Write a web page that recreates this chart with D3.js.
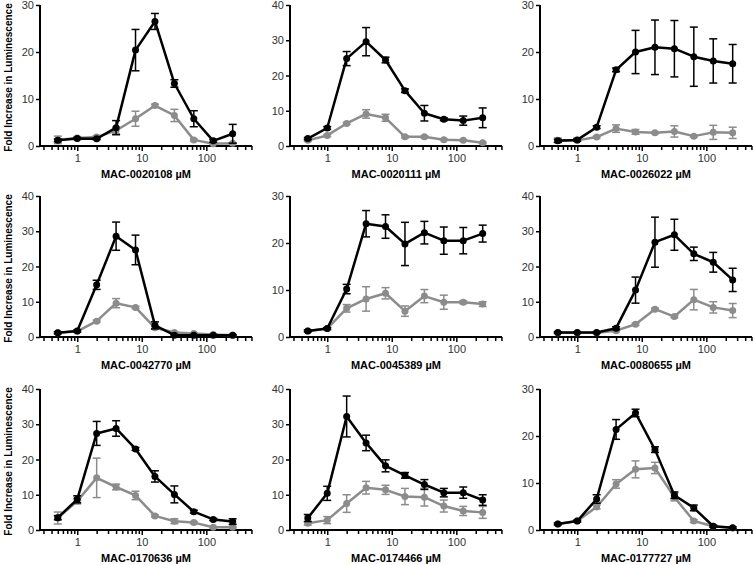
<!DOCTYPE html>
<html>
<head>
<meta charset="utf-8">
<script src="https://cdn.jsdelivr.net/npm/d3@7"></script>
<style>
  body { margin: 0; background: #fff; }
  text { font-family: "Liberation Sans", Arial, sans-serif; }
</style>
</head>
<body>
<svg id="chart" width="754" height="565"></svg>
<script>
// concentrations (µM), 2-fold dilutions
const conc = [0.5, 1, 2, 4, 8, 16, 32, 64, 128, 256];

const compounds = [
  "MAC-0020108", "MAC-0020111", "MAC-0026022",
  "MAC-0042770", "MAC-0045389", "MAC-0080655",
  "MAC-0170636", "MAC-0174466", "MAC-0177727"
];

const yMax = [30, 40, 30, 40, 30, 40, 40, 40, 30];
const yTicks = [[0, 10, 20, 30], [0, 10, 20, 30, 40], [0, 10, 20, 30],
                [0, 10, 20, 30, 40], [0, 10, 20, 30], [0, 10, 20, 30, 40],
                [0, 10, 20, 30, 40], [0, 10, 20, 30, 40], [0, 10, 20, 30]];

const blackMean = [
  [1.2, 1.6, 1.55, 3.9, 20.4, 26.5, 13.3, 5.8, 1.1, 2.6],
  [2.1, 5.1, 24.8, 29.6, 24.4, 15.7, 9.3, 7.6, 7.2, 8.0],
  [1.1, 1.3, 4.0, 16.2, 20.0, 21.0, 20.7, 19.0, 18.1, 17.5],
  [1.2, 1.7, 14.8, 28.6, 24.7, 3.3, 0.5, 0.5, 0.5, 0.5],
  [1.3, 1.8, 10.2, 24.1, 23.5, 19.8, 22.2, 20.5, 20.5, 22.0],
  [1.3, 1.3, 1.3, 2.5, 13.3, 26.9, 29.0, 23.6, 21.2, 16.2],
  [3.5, 8.7, 27.4, 28.8, 23.0, 15.2, 10.1, 5.2, 3.0, 2.4],
  [3.4, 10.4, 32.2, 24.7, 18.2, 15.5, 12.9, 10.6, 10.6, 8.5],
  [1.3, 1.9, 6.6, 21.4, 24.9, 17.1, 7.4, 4.7, 0.8, 0.5]
];
const blackErr = [
  [0.3, 0.2, 0.2, 1.5, 4.4, 1.7, 0.8, 1.7, 0.3, 2.0],
  [0.3, 0.4, 2.0, 4.0, 0.8, 0.5, 2.2, 0.4, 1.3, 2.8],
  [0.3, 0.3, 0.3, 0.4, 4.6, 5.8, 6.0, 6.3, 4.7, 4.1],
  [0.3, 0.3, 1.3, 4.0, 4.2, 1.0, 0.2, 0.2, 0.2, 0.2],
  [0.2, 0.2, 1.0, 2.8, 2.5, 4.6, 2.4, 2.9, 2.8, 1.8],
  [0.2, 0.2, 0.2, 0.4, 3.7, 7.1, 4.4, 1.9, 2.8, 3.3],
  [0.6, 1.0, 3.4, 2.2, 0.4, 1.6, 2.4, 0.4, 0.3, 0.8],
  [1.0, 2.0, 5.8, 2.2, 1.7, 0.8, 1.4, 1.2, 1.6, 1.5],
  [0.2, 0.2, 0.9, 2.1, 0.8, 0.6, 0.7, 0.6, 0.2, 0.2]
];

const greyMean = [
  [1.3, 1.7, 1.9, 3.3, 5.8, 8.6, 6.5, 1.3, 0.5, 0.6],
  [1.6, 3.0, 6.4, 9.1, 8.0, 2.6, 2.6, 1.8, 1.6, 0.9],
  [1.2, 1.2, 1.9, 3.7, 3.0, 2.8, 3.1, 2.1, 2.9, 2.8],
  [1.2, 1.6, 4.5, 9.6, 8.4, 2.6, 1.3, 1.0, 0.7, 0.5],
  [1.3, 1.8, 6.1, 8.1, 9.3, 5.5, 8.7, 7.4, 7.4, 7.0],
  [1.2, 1.2, 1.2, 1.8, 3.6, 7.9, 5.8, 10.6, 8.4, 7.5],
  [3.4, 8.2, 14.8, 12.2, 9.8, 4.0, 2.5, 2.1, 0.8, 0.8],
  [1.9, 2.8, 7.5, 12.0, 11.4, 9.5, 9.3, 6.8, 5.4, 5.0],
  [1.3, 1.9, 4.9, 9.8, 12.9, 13.2, 7.0, 1.9, 0.8, 0.4]
];
const greyErr = [
  [0.8, 0.3, 0.3, 0.7, 1.6, 0.3, 1.3, 0.2, 0.1, 0.1],
  [0.3, 0.3, 0.3, 1.2, 1.0, 0.3, 0.3, 0.2, 0.2, 0.2],
  [0.5, 0.2, 0.2, 0.8, 0.5, 0.2, 1.2, 0.2, 1.5, 1.2],
  [0.2, 0.2, 0.3, 1.3, 0.3, 0.4, 0.2, 0.2, 0.2, 0.1],
  [0.2, 0.2, 0.8, 2.6, 1.2, 1.1, 1.4, 1.5, 0.3, 0.5],
  [0.2, 0.2, 0.2, 0.3, 0.3, 0.3, 0.3, 2.9, 1.6, 2.0],
  [1.7, 0.8, 5.6, 0.8, 1.2, 0.3, 0.7, 0.3, 0.2, 0.2],
  [0.5, 1.0, 2.5, 1.8, 1.3, 2.3, 2.5, 1.7, 1.3, 1.7],
  [0.2, 0.2, 0.4, 0.9, 1.8, 1.2, 0.8, 0.3, 0.2, 0.1]
];

const xMinor = [0.3, 0.4, 0.5, 0.6, 0.7, 0.8, 0.9,
  2, 3, 4, 5, 6, 7, 8, 9, 20, 30, 40, 50, 60, 70, 80, 90,
  200, 300, 400, 500];
const xMajor = [1, 10, 100];

const svg = d3.select("#chart");
const colX = [40, 290, 540];
const rowY = [5, 196, 389];
const w = 212, h = 141;
const grey = "#8c8c8c";

const x = d3.scaleLog().domain([0.265, 510]).range([0, w]);

compounds.forEach((name, i) => {
  const col = i % 3, row = Math.floor(i / 3);
  const g = svg.append("g").attr("transform", `translate(${colX[col]},${rowY[row]})`);
  const y = d3.scaleLinear().domain([0, yMax[i]]).range([h, 0]);

  // y axis
  const ya = g.append("g").call(d3.axisLeft(y).tickValues(yTicks[i]).tickSize(4).tickPadding(2));
  ya.select(".domain").attr("stroke-width", 2).attr("d", `M0,${h}V0`);
  ya.selectAll(".tick line").attr("stroke-width", 1.5);
  ya.selectAll("text").attr("font-size", 11).attr("fill", "#333");

  // x axis: minor + major ticks
  const xa = g.append("g").attr("transform", `translate(0,${h})`);
  xa.call(d3.axisBottom(x).tickValues(xMinor).tickSize(4).tickFormat(""));
  xa.select(".domain").remove();
  const xb = g.append("g").attr("transform", `translate(0,${h})`)
    .call(d3.axisBottom(x).tickValues(xMajor).tickSize(5).tickPadding(3).tickFormat(d3.format("d")));
  xb.select(".domain").attr("stroke-width", 2).attr("d", `M0,0H${w}`);
  g.selectAll(".tick line").attr("stroke-width", 1.5);
  xb.selectAll("text").attr("font-size", 11).attr("fill", "#333");

  g.append("text")
    .attr("x", w / 2).attr("y", h + 32)
    .attr("text-anchor", "middle")
    .attr("font-size", 11).attr("font-weight", "bold")
    .text(name + " µM");

  if (col === 0) {
    g.append("text")
      .attr("transform", `translate(${-28},${h / 2 + 2}) rotate(-90)`)
      .attr("text-anchor", "middle")
      .attr("font-size", 10).attr("font-weight", "bold")
      .text("Fold Increase in Luminescence");
  }

  const series = [
    { mean: greyMean[i], err: greyErr[i], color: grey },
    { mean: blackMean[i], err: blackErr[i], color: "#000" }
  ];

  series.forEach(s => {
    const pts = conc.map((c, k) => ({ c, v: s.mean[k], e: s.err[k] }));
    const line = d3.line().x(d => x(d.c)).y(d => y(d.v));

    const eb = g.append("g").attr("stroke", s.color).attr("stroke-width", 1.5);
    pts.forEach(d => {
      const y0 = y(Math.max(0, d.v - d.e)), y1 = y(d.v + d.e), cx = x(d.c);
      eb.append("line").attr("x1", cx).attr("x2", cx).attr("y1", y0).attr("y2", y1);
      eb.append("line").attr("x1", cx - 4).attr("x2", cx + 4).attr("y1", y1).attr("y2", y1);
      eb.append("line").attr("x1", cx - 4).attr("x2", cx + 4).attr("y1", y0).attr("y2", y0);
    });

    g.append("path").datum(pts)
      .attr("fill", "none").attr("stroke", s.color)
      .attr("stroke-width", 2.5).attr("stroke-linejoin", "round")
      .attr("d", line);

    g.selectAll(null).data(pts).enter().append("circle")
      .attr("cx", d => x(d.c)).attr("cy", d => y(d.v))
      .attr("r", 3.5).attr("fill", s.color);
  });
});
</script>
</body>
</html>
